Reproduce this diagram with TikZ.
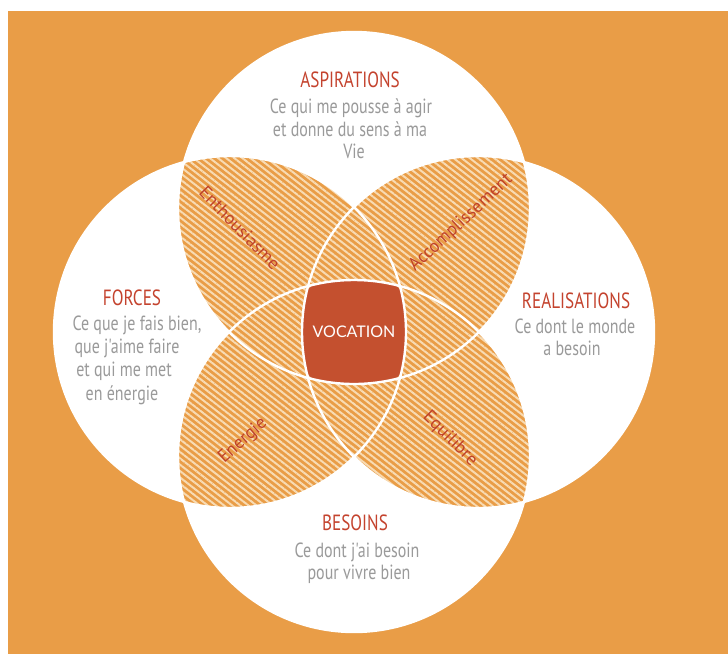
\documentclass[tikz,border=0pt]{standalone}
\usepackage{fontspec}
\usetikzlibrary{patterns.meta}
\newfontfamily\handfont[FakeStretch=0.78]{PT Sans}
\newfontfamily\lensfont{PT Sans}
\newfontfamily\vocfont{Lato}
\definecolor{bgor}{HTML}{E99D47}
\definecolor{stripe}{HTML}{F8DBB3}
\definecolor{voccol}{HTML}{C4502F}
\definecolor{titlered}{HTML}{C4432E}
\definecolor{descgray}{HTML}{9A9A9A}
\definecolor{lensred}{HTML}{C0422A}
\tikzset{
  hatch/.style={fill=bgor, postaction={pattern={Lines[angle=-38,distance=5pt,line width=2pt]}, pattern color=stripe}},
  ring/.style={draw=white, line width=2.4pt},
  title/.style={font=\handfont\fontsize{22}{22}\selectfont, text=titlered, inner sep=0pt, anchor=base},
  desc/.style={font=\handfont\fontsize{20.5}{20.5}\selectfont, text=descgray, inner sep=0pt, anchor=base},
  lens/.style={font=\lensfont\fontsize{18}{18}\selectfont, text=lensred, inner sep=0pt}
}
\begin{document}
\begin{tikzpicture}[x=1pt,y=-1pt]
\useasboundingbox (0,0) rectangle (728,654);
\fill[white] (0,0) rectangle (728,654);
\fill[bgor] (8,11) rectangle (728,654);
\coordinate (C) at (354,332);
\coordinate (T) at (354,208);
\coordinate (B) at (354,456);
\coordinate (L) at (230,332);
\coordinate (R) at (478,332);
% white circles
\foreach \c in {T,B,L,R} \fill[white] (\c) circle[radius=176pt];
% hatched pairwise intersections
\begin{scope}
  \clip (T) circle[radius=176pt];
  \path[hatch] (L) circle[radius=176pt];
  \path[hatch] (R) circle[radius=176pt];
\end{scope}
\begin{scope}
  \clip (B) circle[radius=176pt];
  \path[hatch] (L) circle[radius=176pt];
  \path[hatch] (R) circle[radius=176pt];
\end{scope}
% central region (intersection of the four circles, corners rounded)
\fill[voccol, rounded corners=7pt, shift={(C)}]
  (-45.9,-45.9) -- (-23,-50.5) -- (0,-52) -- (23,-50.5) -- (45.9,-45.9)
  -- (50.5,-23) -- (52,0) -- (50.5,23) -- (45.9,45.9)
  -- (23,50.5) -- (0,52) -- (-23,50.5) -- (-45.9,45.9)
  -- (-50.5,23) -- (-52,0) -- (-50.5,-23) -- cycle;
% white outlines
\foreach \c in {T,B,L,R} \draw[ring] (\c) circle[radius=176pt];
% centre label
\node[font=\vocfont\fontsize{16}{16}\selectfont, text=white] (voc) at (C) {VOCATION};
% ASPIRATIONS
\node[title] (aspT) at (350,87) {ASPIRATIONS};
\node[desc] (asp1) at (351,113) {Ce qui me pousse à agir};
\node[desc] (asp2) at (350,136) {et donne du sens à ma};
\node[desc] (asp3) at (354,158) {Vie};
% FORCES
\node[title] (forT) at (132,305) {FORCES};
\node[desc] (for1) at (137,330) {Ce que je fais bien,};
\node[desc] (for2) at (127,353) {que j'aime faire};
\node[desc] (for3) at (124,376) {et qui me met};
\node[desc] (for4) at (122,400) {en énergie};
% REALISATIONS
\node[title] (reaT) at (576,308) {REALISATIONS};
\node[desc] (rea1) at (575,333) {Ce dont le monde};
\node[desc] (rea2) at (572,355) {a besoin};
% BESOINS
\node[title] (besT) at (355,530) {BESOINS};
\node[desc] (bes1) at (357,557) {Ce dont j'ai besoin};
\node[desc] (bes2) at (359,579) {pour vivre bien};
% lens labels
\node[lens, rotate=-46] (ent) at (240,228) {Enthousiasme};
\node[lens, rotate=43] (acc) at (461,223) {Accomplissement};
\node[lens, rotate=42] (ene) at (243,441) {Energie};
\node[lens, rotate=-45] (equ) at (450,439) {Equilibre};
\end{tikzpicture}
\end{document}
